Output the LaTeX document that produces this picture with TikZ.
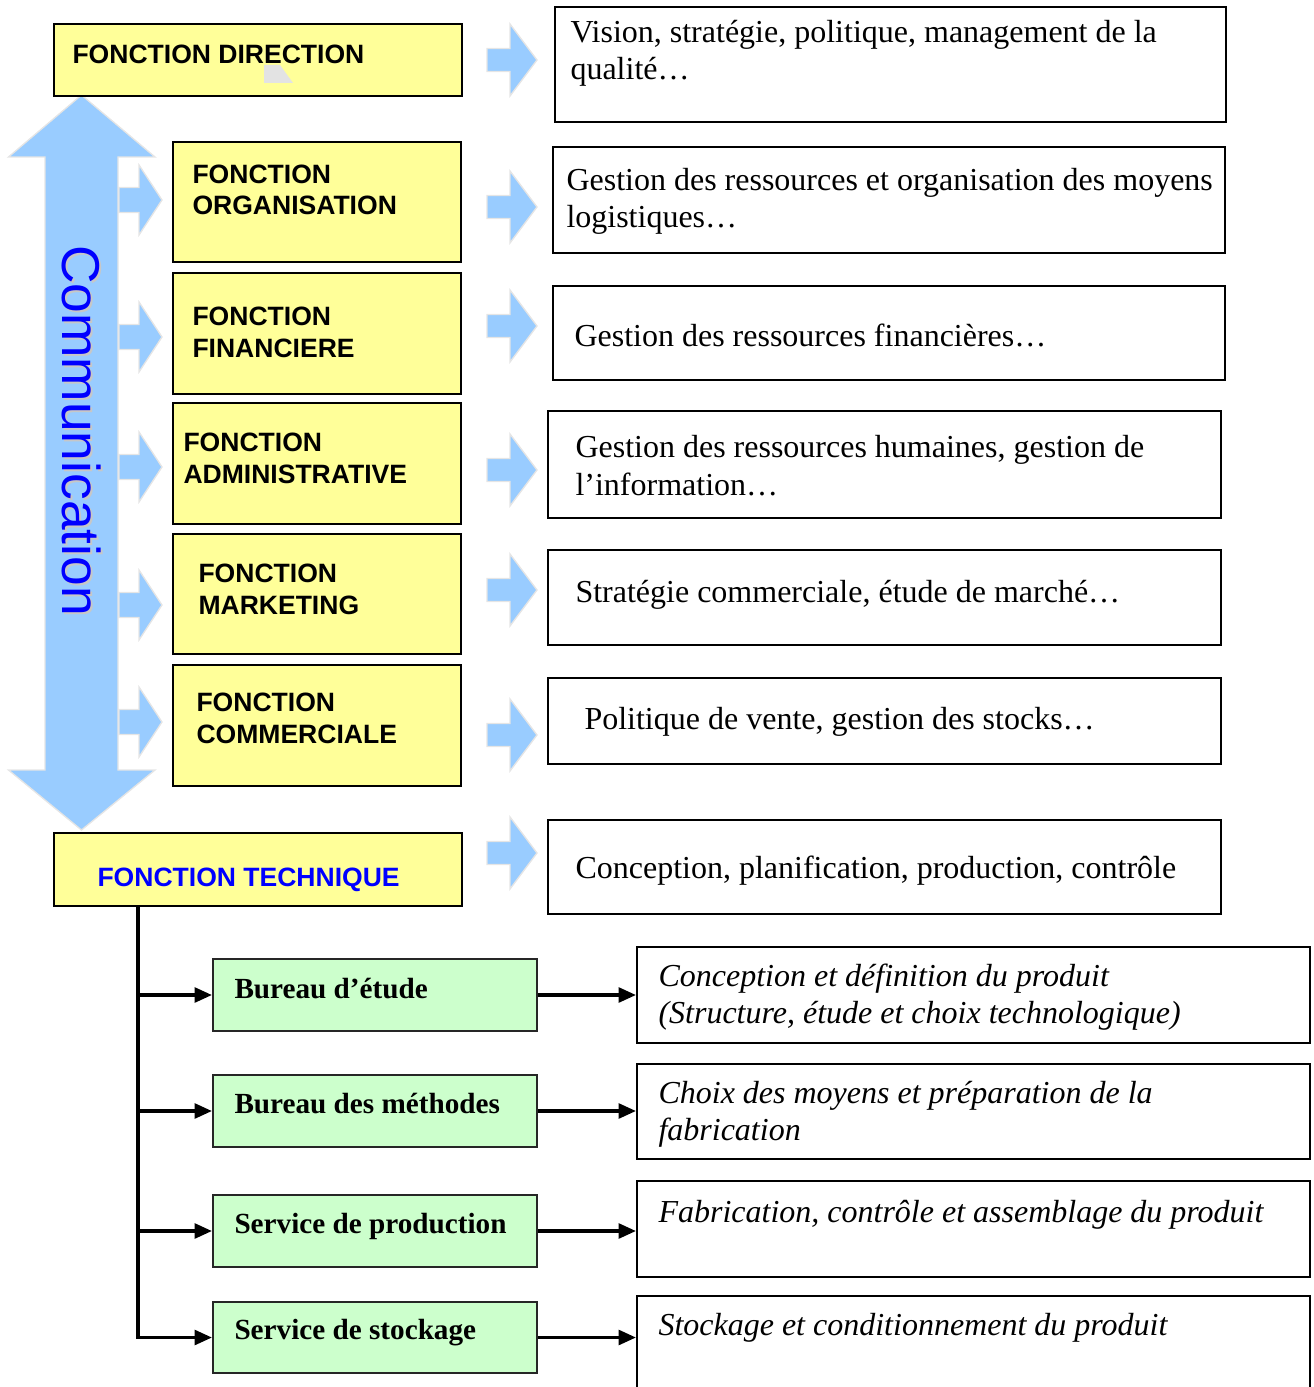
\documentclass[tikz,border=0pt]{standalone}
\usepackage{fontspec}
\setmainfont{Liberation Serif}
\setsansfont{Liberation Sans}
\usetikzlibrary{arrows.meta,fit}

\definecolor{fyellow}{RGB}{255,255,153}
\definecolor{fgreen}{RGB}{204,255,204}
\definecolor{fblue}{RGB}{153,204,255}
\definecolor{tblue}{RGB}{0,0,255}

\tikzset{every picture/.style={line width=0.75pt}}
\tikzset{
  ybox/.style={draw=black, fill=fyellow, line width=1.8pt, inner sep=0pt},
  wbox/.style={draw=black, line width=1.5pt, inner sep=0pt},
  gbox/.style={draw=black!85, fill=fgreen, line width=1.5pt, inner sep=0pt},
  barrow/.style={fill=fblue, draw=black!10, line width=1pt},
  link/.style={line width=2.6pt, -{Triangle[length=13pt,width=11pt]}},
  ytext/.style={anchor=base west, inner sep=0pt, align=left, font=\sffamily\bfseries\fontsize{19.9}{23.3}\selectfont},
  wtext/.style={anchor=base west, inner sep=0pt, align=left, font=\fontsize{24}{27.9}\selectfont},
  gtext/.style={anchor=base west, inner sep=0pt, font=\bfseries\fontsize{21.9}{26}\selectfont},
  itext/.style={anchor=base west, inner sep=0pt, align=left, font=\itshape\fontsize{24}{27.6}\selectfont},
  commtxt/.style={anchor=base, rotate=-90, inner sep=0pt, text=tblue, font=\sffamily\fontsize{40}{48}\selectfont},
  pics/rblock/.style={code={\draw [barrow] (-50,-11.5) -- (-27,-11.5) -- (-27,-36) -- (0,0) -- (-27,36) -- (-27,11.5) -- (-50,11.5) -- cycle ;}},
  pics/lblock/.style={code={\draw [barrow] (-43,-12.5) -- (-23,-12.5) -- (-23,-35) -- (0,0) -- (-23,35) -- (-23,12.5) -- (-43,12.5) -- cycle ;}}
}

\begin{document}
\begin{tikzpicture}[x=0.75pt,y=0.75pt,yscale=-1,xscale=1]
\useasboundingbox (0,0) rectangle (1313,1387);
\clip (0,0) rectangle (1313,1387);

%Double Arrow (communication)
\draw [barrow] (81.5,95) -- (155,157) -- (118,157) -- (118,770) -- (155,770) -- (81.5,830) -- (8.5,770) -- (45,770) -- (45,157) -- (8.5,157) -- cycle ;
% Text Node
\node [commtxt, text=black!22] (commshadow) at (64,432.5) {Communication};
\node [commtxt] (comm) at (62,430.5) {Communication};

%Small block arrows (left)
\pic at (162,200) {lblock};
\pic at (162,337) {lblock};
\pic at (162,467) {lblock};
\pic at (162,605) {lblock};
\pic at (162,722) {lblock};

%Block arrows (middle)
\pic at (537,60) {rblock};
\pic at (537,207) {rblock};
\pic at (537,326) {rblock};
\pic at (537,470) {rblock};
\pic at (537,590) {rblock};
\pic at (537,735) {rblock};
\pic at (537,853) {rblock};

%Yellow boxes
\node [ybox, fit={(54,24) (462,96)}] (dir) {};
\node [ybox, fit={(173,142) (461,262)}] (org) {};
\node [ybox, fit={(173,273) (461,394)}] (fin) {};
\node [ybox, fit={(173,403) (461,524)}] (adm) {};
\node [ybox, fit={(173,534) (461,654)}] (mkt) {};
\node [ybox, fit={(173,665) (461,786)}] (com) {};
\node [ybox, fit={(54,833) (462,906)}] (tech) {};
\fill [black!11] (264,65) -- (280,65) -- (293,83) -- (264,83) -- cycle ;

% Text Node (base = last line)
\node [ytext] (tdir) at (72,64) {FONCTION DIRECTION};
% Text Node
\node [ytext] (torg) at (192,215) {FONCTION\\ORGANISATION};
% Text Node
\node [ytext] (tfin) at (192,357) {FONCTION\\FINANCIERE};
% Text Node
\node [ytext] (tadm) at (183,483) {FONCTION\\ADMINISTRATIVE};
% Text Node
\node [ytext] (tmkt) at (198,614) {FONCTION\\MARKETING};
% Text Node
\node [ytext] (tcom) at (196,743) {FONCTION\\COMMERCIALE};
% Text Node
\node [ytext, text=tblue] (ttech) at (97,886) {FONCTION TECHNIQUE};

%White boxes
\node [wbox, fit={(555,7) (1226,122)}] (dirdesc) {};
\node [wbox, fit={(553,147) (1225,253)}] (orgdesc) {};
\node [wbox, fit={(553,286) (1225,380)}] (findesc) {};
\node [wbox, fit={(548,411) (1221,518)}] (admdesc) {};
\node [wbox, fit={(548,550) (1221,645)}] (mktdesc) {};
\node [wbox, fit={(548,678) (1221,764)}] (comdesc) {};
\node [wbox, fit={(548,820) (1221,914)}] (techdesc) {};

% Text Node
\node [wtext] (tdirdesc) at (570,80) {Vision, stratégie, politique, management de la\\qualité…};
% Text Node
\node [wtext] (torgdesc) at (566,228) {Gestion des ressources et organisation des moyens\\logistiques…};
% Text Node
\node [wtext] (tfindesc) at (574,346) {Gestion des ressources financières…};
% Text Node
\node [wtext] (tadmdesc) at (575,495) {Gestion des ressources humaines, gestion de\\l’information…};
% Text Node
\node [wtext] (tmktdesc) at (575,602) {Stratégie commerciale, étude de marché…};
% Text Node
\node [wtext] (tcomdesc) at (584,729) {Politique de vente, gestion des stocks…};
% Text Node
\node [wtext] (ttechdesc) at (575,878) {Conception, planification, production, contrôle};

%Green boxes
\node [gbox, fit={(213,959) (537,1031)}] (etude) {};
\node [gbox, fit={(213,1075) (537,1147)}] (meth) {};
\node [gbox, fit={(213,1195) (537,1267)}] (prod) {};
\node [gbox, fit={(213,1302) (537,1373)}] (stock) {};

% Text Node
\node [gtext] (tetude) at (234,998) {Bureau d’étude};
% Text Node
\node [gtext] (tmeth) at (234,1113) {Bureau des méthodes};
% Text Node
\node [gtext] (tprod) at (234,1233) {Service de production};
% Text Node
\node [gtext] (tstock) at (234,1339) {Service de stockage};

%Italic boxes
\node [wbox, fit={(637,947) (1310,1043)}] (etudesc) {};
\node [wbox, fit={(637,1064) (1310,1159)}] (methdesc) {};
\node [wbox, fit={(637,1181) (1310,1277)}] (proddesc) {};
\node [wbox, fit={(637,1296) (1310,1400)}] (stockdesc) {};

% Text Node
\node [itext] (tetudesc) at (658,1023) {Conception et définition du produit\\(Structure, étude et choix technologique)};
% Text Node
\node [itext] (tmethdesc) at (658,1140) {Choix des moyens et préparation de la\\fabrication};
% Text Node
\node [itext] (tproddesc) at (658,1222) {Fabrication, contrôle et assemblage du produit};
% Text Node
\node [itext] (tstockdesc) at (658,1335) {Stockage et conditionnement du produit};

%Tree lines
\coordinate (trunk) at (138,906);
\draw [link] (trunk) -- (trunk |- stock.west) -- (stock.west) ;
\draw [link] (trunk |- etude.west) -- (etude.west) ;
\draw [link] (trunk |- meth.west) -- (meth.west) ;
\draw [link] (trunk |- prod.west) -- (prod.west) ;
%Straight Lines
\draw [link] (etude.east) -- (etude.east -| etudesc.west) ;
\draw [link] (meth.east) -- (meth.east -| methdesc.west) ;
\draw [link] (prod.east) -- (prod.east -| proddesc.west) ;
\draw [link] (stock.east) -- (stock.east -| stockdesc.west) ;

\end{tikzpicture}
\end{document}
